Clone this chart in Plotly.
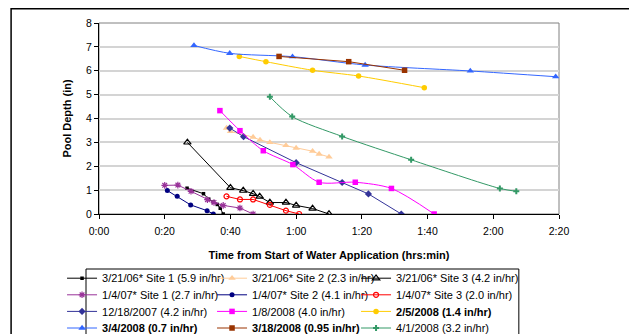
import plotly.graph_objects as go

# ---------------- data (minutes from start, pool depth in inches) ----------------
tick_vals = [0, 20, 40, 60, 80, 100, 120, 140]
tick_text = ["0:00", "0:20", "0:40", "1:00", "1:20", "1:40", "2:00", "2:20"]

t_060321_s1 = [26.8, 31.8, 33.4, 34.8, 36.0, 36.9, 37.8]
d_060321_s1 = [1.08, 0.85, 0.62, 0.50, 0.40, 0.24, 0.0]

t_060321_s2 = [38.8, 40.0, 46.9, 49.0, 52.0, 56.9, 60.0, 65.0, 67.0, 70.0]
d_060321_s2 = [3.60, 3.46, 3.22, 3.10, 3.00, 2.87, 2.76, 2.63, 2.51, 2.39]

t_060321_s3 = [26.9, 40.0, 43.9, 46.9, 48.9, 52.0, 56.9, 60.0, 65.0, 70.0]
d_060321_s3 = [3.00, 1.10, 0.98, 0.85, 0.73, 0.48, 0.48, 0.36, 0.23, 0.0]

t_070104_s1 = [20.0, 24.0, 28.0, 33.0, 35.0, 37.8, 42.9, 46.9]
d_070104_s1 = [1.20, 1.21, 0.95, 0.60, 0.48, 0.36, 0.25, 0.0]

t_070104_s2 = [20.8, 23.8, 27.9, 32.9, 34.8]
d_070104_s2 = [0.98, 0.74, 0.38, 0.14, 0.0]

t_070104_s3 = [38.8, 42.9, 46.9, 52.0, 56.9, 60.9]
d_070104_s3 = [0.74, 0.61, 0.61, 0.38, 0.14, 0.0]

t_071218 = [39.8, 44.0, 60.0, 74.0, 82.0, 92.0]
d_071218 = [3.60, 3.24, 2.15, 1.32, 0.84, 0.0]

t_080108 = [36.8, 42.9, 50.0, 59.0, 67.0, 78.0, 89.0, 102.0]
d_080108 = [4.33, 3.49, 2.65, 2.07, 1.33, 1.33, 1.07, 0.0]

t_080205 = [42.7, 50.8, 65.0, 79.0, 99.0]
d_080205 = [6.60, 6.38, 6.02, 5.78, 5.29]

t_080304 = [28.9, 39.8, 58.9, 81.0, 113.0, 139.0]
d_080304 = [7.06, 6.73, 6.59, 6.24, 5.99, 5.75]

t_080318 = [54.8, 76.0, 93.0]
d_080318 = [6.60, 6.38, 6.02]

t_080401 = [52.0, 58.8, 74.0, 95.0, 122.0, 127.0]
d_080401 = [4.91, 4.08, 3.25, 2.27, 1.07, 0.95]

series_names = [
    "3/21/06* Site 1 (5.9 in/hr)", "3/21/06* Site 2 (2.3 in/hr)", "3/21/06* Site 3 (4.2 in/hr)",
    "1/4/07* Site 1 (2.7 in/hr)", "1/4/07* Site 2 (4.1 in/hr)", "1/4/07* Site 3 (2.0 in/hr)",
    "12/18/2007 (4.2 in/hr)", "1/8/2008 (4.0 in/hr)", "<b>2/5/2008 (1.4 in/hr)</b>",
    "<b>3/4/2008 (0.7 in/hr)</b>", "<b>3/18/2008 (0.95 in/hr)</b>", "4/1/2008 (3.2 in/hr)",
]
series_t = [t_060321_s1, t_060321_s2, t_060321_s3, t_070104_s1, t_070104_s2, t_070104_s3,
            t_071218, t_080108, t_080205, t_080304, t_080318, t_080401]
series_d = [d_060321_s1, d_060321_s2, d_060321_s3, d_070104_s1, d_070104_s2, d_070104_s3,
            d_071218, d_080108, d_080205, d_080304, d_080318, d_080401]

# ---------------- styles ----------------
styles = [
    dict(color="#000000", symbol="square", size=3.5, shape="linear"),
    dict(color="#FFCC99", symbol="triangle-up", size=6.5, shape="linear"),
    dict(color="#000000", symbol="triangle-up-open", size=6.5, shape="linear"),
    dict(color="#993399", symbol="asterisk-open", size=5.5, shape="linear"),
    dict(color="#000080", symbol="circle", size=5, shape="linear"),
    dict(color="#FF0000", symbol="circle-open", size=5, shape="linear"),
    dict(color="#333399", symbol="diamond", size=5.5, shape="linear"),
    dict(color="#FF00FF", symbol="square", size=5.5, shape="spline"),
    dict(color="#FFCC00", symbol="circle", size=5.5, shape="spline"),
    dict(color="#3366FF", symbol="triangle-up", size=6.5, shape="spline"),
    dict(color="#993300", symbol="square", size=5.5, shape="linear"),
    dict(color="#339966", symbol="cross", size=5, shape="spline"),
]
col_widths = [105, 99, 135]   # legend entry text widths per column (px)

FONT = "Liberation Sans, Arial, sans-serif"

fig = go.Figure()
for i, (nm, tx, dy, st) in enumerate(zip(series_names, series_t, series_d, styles)):
    row, col = divmod(i, 3)
    fig.add_trace(go.Scatter(
        x=tx, y=dy, name=nm, mode="lines+markers",
        line=dict(color=st["color"], width=1, shape=st["shape"], smoothing=0.8),
        marker=dict(symbol=st["symbol"], size=st["size"], color=st["color"],
                    line=dict(color=st["color"], width=1.2 if "open" in st["symbol"] else 0)),
        legend="legend" if row == 0 else "legend%d" % (row + 1),
        legendwidth=col_widths[col],
    ))

# pixel helpers for paper coordinates (plot area: x 99..559.5, y 23.3..214.3)
L, R, T, B = 99, 559.5, 23.3, 214.3
def px(x):
    return (x - L) / (R - L)
def py(y):
    return (B - y) / (B - T)

legend_common = dict(orientation="h", xanchor="left", yanchor="top",
                     font=dict(family=FONT, size=11, color="#000"),
                     bgcolor="rgba(0,0,0,0)", borderwidth=0,
                     entrywidthmode="pixels", itemwidth=30,
                     tracegroupgap=0)
row_tops = [264.0, 280.6, 297.2, 313.8]
legends = {}
for r, top in enumerate(row_tops):
    key = "legend" if r == 0 else "legend%d" % (r + 1)
    legends[key] = dict(legend_common, x=px(62), y=py(top))

fig.update_layout(
    width=629, height=334,
    margin=dict(l=L, r=629 - R, t=T, b=334 - B, autoexpand=False),
    paper_bgcolor="white", plot_bgcolor="white",
    font=dict(family=FONT, size=10.5, color="#000"),
    showlegend=True,
    xaxis=dict(range=[0, 140], tickvals=tick_vals, ticktext=tick_text,
               showgrid=False, zeroline=False, showline=True, linecolor="#000", linewidth=1,
               ticks="outside", ticklen=4, tickcolor="#000", ticklabelstandoff=3,
               tickfont=dict(family=FONT, size=10.5),
               title=dict(text="<b>Time from Start of Water Application (hrs:min)</b>",
                          font=dict(family=FONT, size=11), standoff=15)),
    yaxis=dict(range=[0, 8], dtick=1, showgrid=True, gridcolor="#D4D4D4", gridwidth=1.5,
               zeroline=False, showline=True, linecolor="#000", linewidth=1,
               ticks="outside", ticklen=4, tickcolor="#000",
               tickfont=dict(family=FONT, size=10.5),
               title=dict(text="<b>Pool Depth (in)</b>", font=dict(family=FONT, size=11),
                          standoff=12)),
    shapes=[
        # plot area border (gray)
        dict(type="rect", xref="paper", yref="paper", x0=0, x1=1, y0=0, y1=1,
             line=dict(color="#808080", width=1), layer="between"),
        # outer chart border
        dict(type="rect", xref="paper", yref="paper", x0=px(11), x1=px(660), y0=py(400), y1=py(9),
             line=dict(color="#000", width=1.5), layer="above"),
        # legend box
        dict(type="rect", xref="paper", yref="paper", x0=px(86), x1=px(519.3), y0=py(400), y1=py(269.3),
             line=dict(color="#000", width=1), layer="above"),
    ],
    **legends,
)

fig.write_html("out.html", config={"displayModeBar": False},
               post_script="document.body.style.margin='0';")
